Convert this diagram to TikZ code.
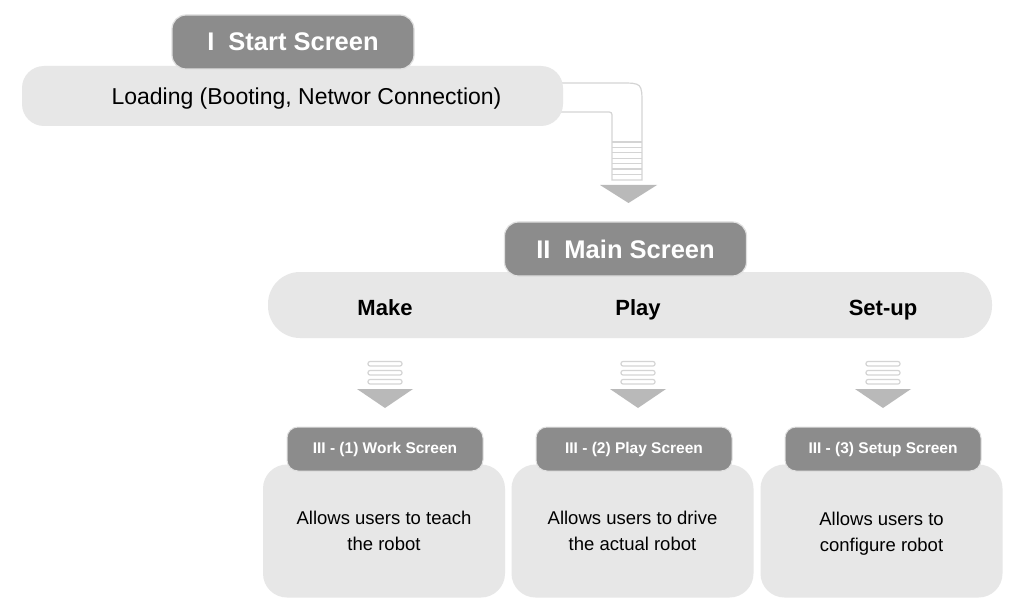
\documentclass[tikz,border=0pt]{standalone}
\usepackage{fontspec}
\setmainfont{Liberation Sans}
\usepackage{tikz}
\usetikzlibrary{positioning}

\definecolor{headgray}{HTML}{8C8C8C}
\definecolor{bargray}{HTML}{E7E7E7}
\definecolor{pipegray}{HTML}{D4D4D4}
\definecolor{arrowgray}{HTML}{B9B9B9}

\tikzset{
  header/.style={fill=headgray,draw=white!88!black,line width=1.2pt,rounded corners=14pt,
    text=white,font=\bfseries\fontsize{25.5}{30}\selectfont,inner sep=0pt},
  subheader/.style={fill=headgray,draw=white!88!black,line width=1pt,rounded corners=11pt,
    text=white,font=\bfseries\fontsize{15.5}{18}\selectfont,inner sep=0pt,
    minimum width=196pt,minimum height=44pt},
  bar/.style={fill=bargray,inner sep=0pt},
  infobox/.style={fill=bargray,rounded corners=24pt,inner sep=0pt,
    minimum width=242pt,minimum height=133pt},
  infotext/.style={align=center,inner sep=0pt,font=\fontsize{18.5}{26}\selectfont},
  stripe/.style={draw=pipegray,line width=1.2pt,fill=white},
  tri/.style={fill=arrowgray}
}

\begin{document}
\begin{tikzpicture}[x=1pt,y=-1pt]
\useasboundingbox[fill=white] (0,0) rectangle (1021,615);

% pipe from the start screen to the main screen
\draw[stripe] (540,83) -- (620,83) .. controls (642,83) .. (642,105) -- (642,180)
  -- (612,180) -- (612,118) .. controls (612,112) .. (606,112) -- (540,112) -- cycle;
\foreach \k in {0,1,...,6}
{
\draw[draw=pipegray,line width=1.2pt] (612,{142+5.4*\k}) -- (642,{142+5.4*\k});
}
\fill[tri] (600,185) -- (657,185) -- (628.5,203) -- cycle;

% I start screen
\node[bar,rounded corners=22pt,minimum width=541pt,minimum height=60pt] (load) at (292.5,96) {};
\node[font=\fontsize{23}{26}\selectfont,anchor=base] (loadtext) at (306.5,105) {Loading (Booting, Networ Connection)};
\node[header,minimum width=242pt,minimum height=54pt] (start) at (293,42) {I\hspace{0.55em}Start Screen};

% II main screen
\node[bar,rounded corners=32pt,minimum width=724pt,minimum height=66pt] (main) at (630,305) {};
\node[header,minimum width=242pt,minimum height=54pt] (mainhead) at (625.5,249) {II\hspace{0.55em}Main Screen};

\foreach \c/\lab/\name in {385/Make/make,638/Play/play,883/Set-up/setup}
{
\node[font=\bfseries\fontsize{22}{26}\selectfont,anchor=base] (\name) at (\c,315) {\lab};
\foreach \y in {361.5,370.5,379.5}
  \draw[stripe,rounded corners=2pt] ({\c-17},\y) rectangle ({\c+17},{\y+4.5});
\fill[tri] ({\c-28},389) -- ({\c+28},389) -- (\c,408) -- cycle;
}

% III sub screens
\node[infobox] (work) at (384,531) {};
\node[infobox] (playbox) at (632.5,531) {};
\node[infobox] (setbox) at (881.5,531) {};
\node[infotext] (worktext) at (384,531) {Allows users to teach\\the robot};
\node[infotext] (playtext) at (632.5,531) {Allows users to drive\\the actual robot};
\node[infotext] (settext) at (881.5,533.5) {Allows users to\\configure robot};

\node[subheader] (workhead) at (385,449) {III - (1) Work Screen};
\node[subheader] (playhead) at (634,449) {III - (2) Play Screen};
\node[subheader] (sethead) at (883,449) {III - (3) Setup Screen};
\end{tikzpicture}
\end{document}
